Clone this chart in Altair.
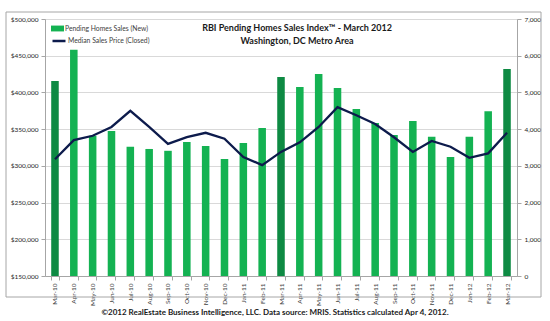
import altair as alt
import pandas as pd

months = ["Mar-10","Apr-10","May-10","Jun-10","Jul-10","Aug-10","Sep-10","Oct-10","Nov-10","Dec-10",
          "Jan-11","Feb-11","Mar-11","Apr-11","May-11","Jun-11","Jul-11","Aug-11","Sep-11","Oct-11",
          "Nov-11","Dec-11","Jan-12","Feb-12","Mar-12"]
pending_sales = [5310, 6160, 3820, 3950, 3520, 3460, 3410, 3650, 3540, 3190,
                 3620, 4030, 5420, 5150, 5500, 5120, 4550, 4170, 3840, 4220,
                 3790, 3240, 3790, 4490, 5640]
median_price = [309000, 335000, 341000, 353000, 375000, 353000, 330000, 339000, 345000, 337000,
                312000, 301000, 319000, 332000, 353000, 380000, 369000, 357000, 339000, 319000,
                334000, 326000, 311000, 317000, 345000]
highlight = ["Mar-10", "Mar-11", "Mar-12"]
right_ticks = [0, 1000, 2000, 3000, 4000, 5000, 6000, 7000]
left_ticks = [150000, 200000, 250000, 300000, 350000, 400000, 450000, 500000]

title1 = "RBI Pending Homes Sales Index™ - March 2012"
title2 = "Washington, DC Metro Area"
footer = "©2012 RealEstate Business Intelligence, LLC. Data source: MRIS. Statistics calculated Apr 4, 2012."

df = pd.DataFrame({
    "month": months,
    "sales": pending_sales,
    "price": median_price,
    "bar_series": "Pending Homes Sales (New)",
    "line_series": "Median Sales Price (Closed)",
    "march": [m in highlight for m in months],
})

FONT = "Lato"
W, H = 472, 257
LBL = 6.5

x_enc = alt.X("month:N", sort=months, title=None,
              scale=alt.Scale(paddingInner=0.6, paddingOuter=0.33),
              axis=alt.Axis(labelAngle=270, labelFontSize=LBL, labelColor="#404040",
                            labelFont=FONT, domainColor="#A6A6A6", tickColor="#A6A6A6",
                            tickBand="extent", tickSize=4, labelPadding=3))

bars = alt.Chart(df).mark_bar().encode(
    x=x_enc,
    y=alt.Y("sales:Q", title=None,
            scale=alt.Scale(domain=[0, 7000], nice=False),
            axis=alt.Axis(orient="right", format=",.0f", values=right_ticks,
                          labelFontSize=LBL, labelColor="#262626", labelFont=FONT,
                          grid=False, domainColor="#A6A6A6", tickColor="#A6A6A6",
                          tickSize=4, labelPadding=3)),
    fill=alt.condition(
        "datum.march",
        alt.value("#0E8A43"),
        alt.Fill("bar_series:N", title=None,
                 scale=alt.Scale(range=["#14B252"]),
                 legend=alt.Legend(orient="none", legendX=6, legendY=3, padding=0,
                                   symbolType="M-1,-0.45H1V0.45H-1Z", symbolSize=169,
                                   symbolStrokeWidth=0, labelFontSize=6.8, labelFont=FONT,
                                   labelColor="#404040", labelOffset=1)),
    ),
)

line = alt.Chart(df).mark_line(strokeWidth=2.3).encode(
    x=alt.X("month:N", sort=months),
    y=alt.Y("price:Q", title=None,
            scale=alt.Scale(domain=[150000, 500000], nice=False),
            axis=alt.Axis(orient="left", format="$,.0f", values=left_ticks,
                          labelFontSize=LBL, labelColor="#262626", labelFont=FONT,
                          grid=True, gridColor="#D9D9D9", domainColor="#A6A6A6",
                          tickColor="#A6A6A6", tickSize=4, labelPadding=3)),
    stroke=alt.Stroke("line_series:N", title=None,
                      scale=alt.Scale(range=["#0D1B4C"]),
                      legend=alt.Legend(orient="none", legendX=6, legendY=14, padding=0,
                                        symbolType="stroke", symbolSize=169,
                                        symbolStrokeWidth=2.5, labelFontSize=6.8, labelFont=FONT,
                                        labelColor="#404040", labelOffset=1)),
)

one = pd.DataFrame({"t1": [title1], "t2": [title2], "f": [footer]})

frame = alt.Chart(one).mark_rect(fill=None, stroke="#A6A6A6", strokeWidth=1).encode(
    x=alt.value(-39), x2=alt.value(496), y=alt.value(-7), y2=alt.value(278))

t1 = alt.Chart(one).mark_text(font=FONT, fontWeight="bold", fontSize=9, color="#1a1a1a").encode(
    text="t1:N", x=alt.value(252), y=alt.value(9))
t2 = alt.Chart(one).mark_text(font=FONT, fontWeight="bold", fontSize=9, color="#1a1a1a").encode(
    text="t2:N", x=alt.value(252), y=alt.value(21.5))
foot = alt.Chart(one).mark_text(font=FONT, fontWeight="bold", fontSize=8, color="#1a1a1a").encode(
    text="f:N", x=alt.value(230), y=alt.value(294))

chart = alt.layer(bars, line, frame, t1, t2, foot).resolve_scale(
    y="independent", fill="independent", stroke="independent"
).properties(
    width=W, height=H,
    autosize=alt.AutoSizeParams(type="none"),
    padding={"left": 45, "top": 19, "right": 33, "bottom": 45},
).configure_view(stroke=None).configure(background="white")

chart.save("out.html", embed_options={"renderer": "svg", "actions": False})
